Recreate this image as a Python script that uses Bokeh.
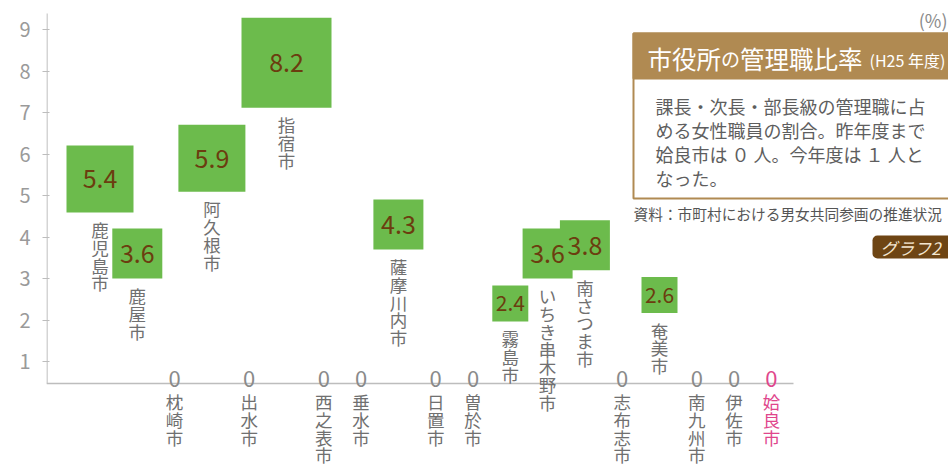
from bokeh.plotting import figure
from bokeh.models import Range1d, ColumnDataSource, FixedTicker, BoxAnnotation
from bokeh.core.properties import value, field
from bokeh.embed import file_html
from bokeh.resources import INLINE

# ---------------- data ----------------
cities = ["鹿児島市", "鹿屋市", "枕崎市", "阿久根市", "出水市", "指宿市", "西之表市",
          "垂水市", "薩摩川内市", "日置市", "曽於市", "霧島市", "いちき串木野市",
          "南さつま市", "志布志市", "奄美市", "南九州市", "伊佐市", "姶良市"]
ratios = [5.4, 3.6, 0, 5.9, 0, 8.2, 0, 0, 4.3, 0, 0, 2.4, 3.6, 3.8, 0, 2.6, 0, 0, 0]
highlight_city = "姶良市"
y_ticks = [1, 2, 3, 4, 5, 6, 7, 8, 9]
unit_label = "(%)"
title_parts = ["市役所", "の", "管理職比率"]
title_note = "(H25 年度)"
body_lines = ["課長・次長・部長級の管理職に占",
              "める女性職員の割合。昨年度まで",
              "姶良市は ０ 人。今年度は １ 人と",
              "なった。"]
source_note = "資料：市町村における男女共同参画の推進状況"
badge_text = "グラフ2"

# ---------------- style / layout ----------------
FONT = "Noto Sans CJK JP"
GREEN = "#6cbb4c"
VALUE_COLOR = "#6b3d0f"
NAME_COLOR = "#707070"
ZERO_COLOR = "#8a8a8a"
PINK = "#e0468c"
AXIS_COLOR = "#bdbdbd"
BROWN = "#b08a52"
BADGE = "#6e4514"

W, H = 948, 468
LEFT = 46                  # canvas px left of frame
XS, YS = 37.3, 41.5        # px per unit
X0_PX, Y0_PX = 99.5, 402.5 # px of index 0 / value 0
x_start = (LEFT - X0_PX) / XS
x_end = x_start + (W - LEFT) / XS
y_end = Y0_PX / YS
y_start = (Y0_PX - H) / YS


def px_x(px):
    return x_start + (px - LEFT) / XS


def px_y(py):
    return (Y0_PX - py) / YS


AXIS_Y = px_y(383)


def side_px(v):
    if v >= 8:
        return 90
    if v >= 5:
        return 67
    if v >= 3:
        return 50
    return 36


p = figure(width=W, height=H, output_backend="svg", toolbar_location=None,
           x_range=Range1d(x_start, x_end), y_range=Range1d(y_start, y_end),
           x_axis_location=None, y_axis_location="left",
           min_border_left=LEFT, min_border_right=0, min_border_top=0, min_border_bottom=0,
           background_fill_color="white", border_fill_color="white")
p.outline_line_color = None
p.grid.visible = False

ax = p.yaxis[0]
ax.ticker = FixedTicker(ticks=y_ticks)
ax.axis_line_color = None
ax.major_tick_line_color = AXIS_COLOR
ax.major_tick_in = 3
ax.major_tick_out = 4
ax.minor_tick_line_color = None
ax.major_label_standoff = 12
ax.major_label_text_font = FONT
ax.major_label_text_font_size = "20px"
ax.major_label_text_color = "#9a9a9a"

# axis lines
p.segment(x0=[px_x(46.5)], y0=[AXIS_Y], x1=[px_x(46.5)], y1=[px_y(13)],
          line_color=AXIS_COLOR, line_width=1.3)
p.segment(x0=[px_x(46)], y0=[AXIS_Y], x1=[px_x(793)], y1=[AXIS_Y],
          line_color=AXIS_COLOR, line_width=1.3)

# squares
sq_x, sq_y, sq_s, sq_t, sq_fs = [], [], [], [], []
zx, zc = [], []
for i, (c, v) in enumerate(zip(cities, ratios)):
    if v > 0:
        s = side_px(v)
        sq_x.append(i); sq_y.append(v); sq_s.append(s)
        sq_t.append(f"{v:.1f}"); sq_fs.append("25px" if s >= 50 else "21px")
    else:
        zx.append(i); zc.append(PINK if c == highlight_city else ZERO_COLOR)

sq = ColumnDataSource(dict(x=sq_x, y=sq_y, s=sq_s, t=sq_t, fs=sq_fs))
p.rect(x="x", y="y", width="s", height="s", width_units="screen", height_units="screen",
       source=sq, fill_color=GREEN, line_color=None)
p.text(x="x", y="y", text="t", source=sq, text_font=value(FONT), text_font_size=field("fs"),
       text_color=VALUE_COLOR, text_align="center", text_baseline="middle")

# zero labels
zs = ColumnDataSource(dict(x=zx, y=[AXIS_Y] * len(zx), t=["0"] * len(zx), c=zc))
p.text(x="x", y="y", text="t", source=zs, text_font=value(FONT), text_font_size="22px",
       text_color="c", text_align="center", text_baseline="alphabetic", y_offset=-5)

# vertical city names (one glyph per character)
STEP = 17.8
nx, ny, nch, noff, ncol = [], [], [], [], []
for i, (c, v) in enumerate(zip(cities, ratios)):
    if v > 0:
        base, start = v, side_px(v) / 2 + 17
    else:
        base, start = AXIS_Y, 18
    for k, ch in enumerate(c):
        nx.append(i); ny.append(base); nch.append(ch); noff.append(start + k * STEP)
        ncol.append(PINK if c == highlight_city else NAME_COLOR)
ns = ColumnDataSource(dict(x=nx, y=ny, t=nch, off=noff, c=ncol))
p.text(x="x", y="y", text="t", y_offset="off", source=ns, text_font=value(FONT),
       text_font_size="17.5px", text_color="c", text_align="center", text_baseline="middle")

# title box
p.quad(left=[px_x(633)], right=[px_x(990)], top=[px_y(33)], bottom=[px_y(198)],
       fill_color="white", line_color=BROWN, line_width=2)
p.quad(left=[px_x(633)], right=[px_x(990)], top=[px_y(33)], bottom=[px_y(78)],
       fill_color=BROWN, line_color=BROWN, line_width=2)
tx = 647
for part, fs in zip(title_parts, [24.5, 19, 24.5]):
    p.text(x=[px_x(tx)], y=[px_y(58)], text=[part], text_font=value(FONT),
           text_font_size=f"{fs}px", text_color="white", text_align="left",
           text_baseline="middle")
    tx += fs * len(part)
p.text(x=[px_x(869)], y=[px_y(59)], text=[title_note], text_font=value(FONT),
       text_font_size="16px", text_color="white", text_align="left", text_baseline="middle")

p.text(x=[px_x(655)] * len(body_lines), y=[px_y(105 + 24 * k) for k in range(len(body_lines))],
       text=body_lines, text_font=value(FONT), text_font_size="18px", text_color="#5e5e5e",
       text_align="left", text_baseline="middle")

p.text(x=[px_x(633)], y=[px_y(213)], text=[source_note], text_font=value(FONT),
       text_font_size="14.7px", text_color="#555555", text_align="left", text_baseline="middle")

p.text(x=[px_x(947)], y=[px_y(19)], text=[unit_label], text_font=value(FONT),
       text_font_size="18px", text_color="#8a8a8a", text_align="right", text_baseline="middle")

p.add_layout(BoxAnnotation(left=px_x(872), right=px_x(952), top=px_y(235), bottom=px_y(258),
                           fill_color=BADGE, fill_alpha=1.0, line_color=None, border_radius=5,
                           level="underlay"))
p.text(x=[px_x(910)], y=[px_y(246.5)], text=[badge_text], text_font=value(FONT),
       text_font_size="17px", text_color="#f3e6d0", text_align="center", text_baseline="middle",
       text_font_style="italic")

open("out.html", "w").write(file_html(p, INLINE))
